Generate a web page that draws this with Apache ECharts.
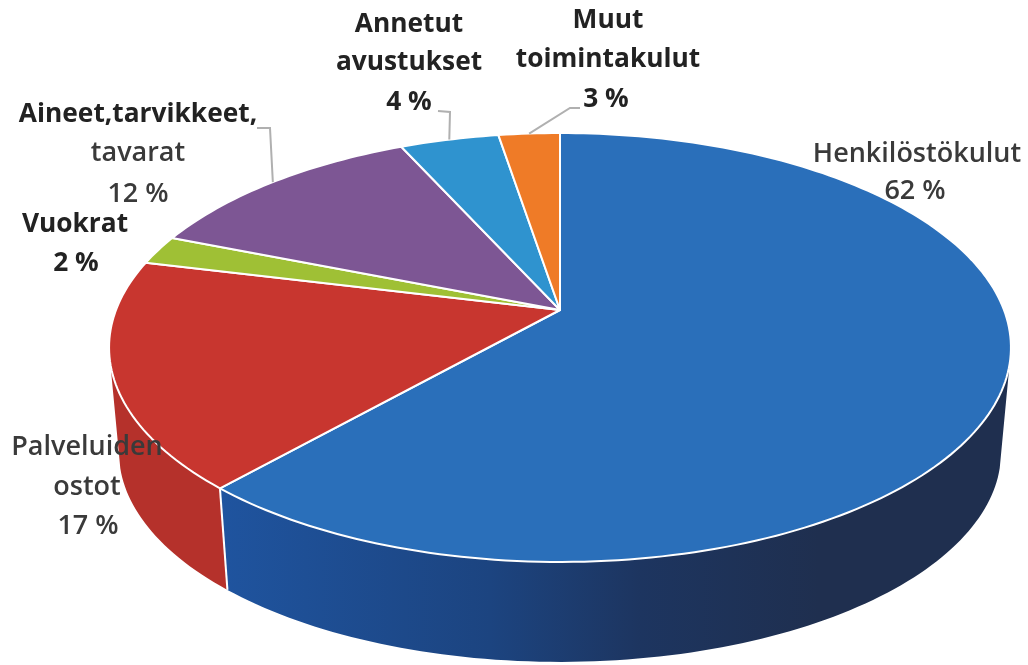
<!DOCTYPE html>
<html>
<head>
<meta charset="utf-8">
<title>Kuluerittely</title>
<script src="https://cdn.jsdelivr.net/npm/echarts@6/dist/echarts.min.js"></script>
<style>
  html, body { margin: 0; padding: 0; background: #fff; }
  #chart { width: 1028px; height: 665px; }
</style>
</head>
<body>
<div id="chart"></div>
<script>
  // data (labels show the rounded percentages)
  const categories = ['Henkilöstökulut', 'Palveluiden\nostot', 'Vuokrat', 'Aineet,tarvikkeet,\ntavarat', 'Annetut\navustukset', 'Muut\ntoimintakulut'];
  const shares = [61.6, 17.2, 2.2, 12.2, 4.2, 2.6];

  const topColors = ['#2a6fba', '#c8362f', '#9fc035', '#7d5694', '#2f93cf', '#ef7b27'];
  const sideColors = ['#1f549f', '#b5312b', '#7f9a2a', '#644478', '#2676a6', '#bf621f'];

  // pie plane in perspective
  const apexX = 560, apexY = 310, radiusX = 444, radiusY = 207.9, persp = 0.1748;
  // lower rim of the disc
  const lowScale = 0.978, lowY = 415.5;
  // the wall is only seen between these two points of the turn (in % of the full circle)
  const wallFrom = 29, wallTo = 71;

  // label placement: centre x and y of each text line, last line is the percentage
  const labelSpots = [
    [[917, 154], [915, 191]],
    [[87, 447], [87, 487], [88, 526]],
    [[75, 225], [76, 264]],
    [[138, 115], [138, 153], [138, 194]],
    [[409, 25], [409, 63], [409, 103]],
    [[608, 21], [608, 60], [606, 100]]
  ];
  // true = crisp black bold in the scan, false = the softer greyer lines
  const labelBold = [
    [false, false],
    [false, false, false],
    [true, true],
    [true, false, false],
    [true, true, true],
    [true, true, true]
  ];
  // elbows of the leader lines, they end on the rim at the middle of the slice
  const leaderElbows = [null, null, null, [[257, 128], [270, 128]], [[438, 111], [450, 112]], [[580, 108], [570, 108]]];

  const total = shares.reduce((a, b) => a + b, 0);
  const starts = [];
  shares.reduce((sum, v, i) => { starts[i] = sum; return sum + v; }, 0);

  function rimPoint(share) {
    const a = share / total * Math.PI * 2;
    const u = Math.sin(a), v = -Math.cos(a);
    const s = 1 / (1 - persp * v);
    return [apexX + radiusX * u * s, apexY + radiusY * v * s];
  }
  function lowPoint(p) {
    return [apexX + (p[0] - apexX) * lowScale, lowY + (p[1] - apexY) * lowScale];
  }
  function rimArc(from, to) {
    const pts = [];
    const steps = Math.max(8, Math.round((to - from) * 3));
    for (let k = 0; k <= steps; k++) pts.push(rimPoint(from + (to - from) * k / steps));
    return pts;
  }

  const chart = echarts.init(document.getElementById('chart'));

  const blueSide = new echarts.graphic.LinearGradient(220, 0, 820, 0, [
    { offset: 0, color: '#1f549f' },
    { offset: 0.45, color: '#1c4480' },
    { offset: 0.7, color: '#1d3560' },
    { offset: 1, color: '#1f2f4f' }
  ], true);

  function renderSide(params, api) {
    const i = api.value(0);
    const from = Math.max(starts[i], wallFrom);
    const to = Math.min(starts[i] + shares[i], wallTo);
    if (to <= from) return null;
    const arc = rimArc(from, to);
    const low = arc.map(lowPoint).reverse();
    const seam = [];
    // white seam where a slice ends on the visible wall
    if (starts[i] > wallFrom && starts[i] < wallTo) {
      const p = rimPoint(starts[i]), q = lowPoint(p);
      seam.push({
        type: 'line',
        z2: 5,
        shape: { x1: p[0], y1: p[1], x2: q[0], y2: q[1] },
        style: { stroke: '#fff', lineWidth: 2 }
      });
    }
    return {
      type: 'group',
      children: [{
        type: 'polygon',
        shape: { points: arc.concat(low) },
        style: { fill: i === 0 ? blueSide : sideColors[i] }
      }].concat(seam)
    };
  }

  function renderTop(params, api) {
    const i = api.value(0);
    return {
      type: 'polygon',
      shape: { points: [[apexX, apexY]].concat(rimArc(starts[i], starts[i] + shares[i])) },
      style: { fill: topColors[i], stroke: '#fff', lineWidth: 2, lineJoin: 'round' }
    };
  }

  function renderLabel(params, api) {
    const i = api.value(0);
    const lines = categories[i].split('\n').concat(Math.round(shares[i]) + ' %');
    const children = lines.map((text, k) => {
      const bold = labelBold[i][k];
      return {
        type: 'text',
        style: {
          x: labelSpots[i][k][0],
          y: labelSpots[i][k][1],
          text: text,
          fill: bold ? '#222' : '#3a3a3a',
          font: (bold ? '700 26.3px' : '600 27px') + ' "Open Sans", "Noto Sans", sans-serif',
          align: 'center',
          verticalAlign: 'middle'
        }
      };
    });
    if (leaderElbows[i]) {
      const pts = leaderElbows[i].concat([rimPoint(starts[i] + shares[i] / 2)]);
      children.push({
        type: 'polyline',
        shape: { points: pts },
        style: { stroke: '#b0b0b0', lineWidth: 2, fill: 'none' }
      });
    }
    return { type: 'group', children: children };
  }

  const indexRows = categories.map((c, i) => [i]);

  chart.setOption({
    animation: false,
    backgroundColor: '#fff',
    series: [
      { type: 'custom', coordinateSystem: 'none', z: 1, silent: true, clip: false, data: indexRows, renderItem: renderSide },
      { type: 'custom', coordinateSystem: 'none', z: 2, silent: true, clip: false, data: indexRows, renderItem: renderTop },
      { type: 'custom', coordinateSystem: 'none', z: 3, silent: true, clip: false, data: indexRows, renderItem: renderLabel }
    ]
  });
</script>
</body>
</html>
